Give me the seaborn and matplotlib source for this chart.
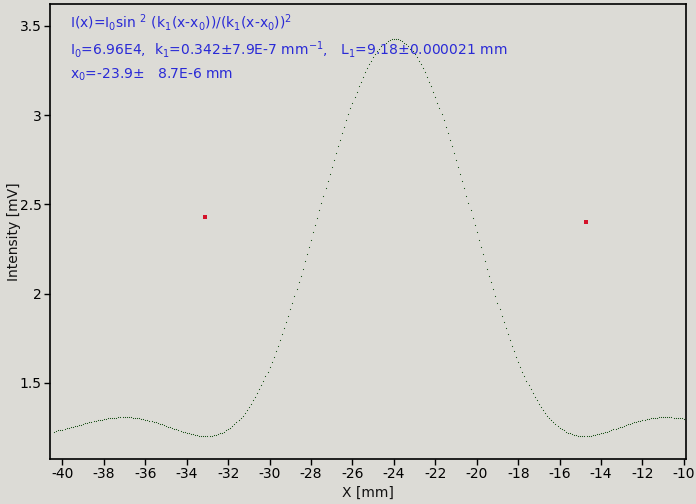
import numpy as np
import pandas as pd
import matplotlib
matplotlib.use("Agg")
import matplotlib.pyplot as plt
import seaborn as sns
from matplotlib.ticker import FuncFormatter

sns.set_theme(style="white")
plt.rcParams['font.family'] = ['DejaVu Sans']
plt.rcParams['axes.unicode_minus'] = False
plt.rcParams['mathtext.default'] = 'regular'

# measured points (x in mm, start and step of the scan)
x_start = -40.4
x_step = 0.1
intensity = [
    1.228, 1.231, 1.234, 1.236, 1.239, 1.242, 1.245, 1.248, 1.251, 1.255,
    1.258, 1.261, 1.264, 1.267, 1.271, 1.274, 1.277, 1.280, 1.283, 1.285,
    1.288, 1.291, 1.293, 1.295, 1.298, 1.299, 1.301, 1.303, 1.304, 1.305,
    1.306, 1.307, 1.308, 1.308, 1.308, 1.308, 1.307, 1.307, 1.306, 1.304,
    1.303, 1.301, 1.299, 1.297, 1.295, 1.292, 1.289, 1.286, 1.283, 1.279,
    1.276, 1.272, 1.268, 1.264, 1.260, 1.256, 1.252, 1.248, 1.244, 1.240,
    1.236, 1.232, 1.228, 1.224, 1.221, 1.217, 1.214, 1.212, 1.209, 1.207,
    1.205, 1.204, 1.203, 1.203, 1.203, 1.204, 1.205, 1.207, 1.210, 1.213,
    1.217, 1.222, 1.228, 1.234, 1.241, 1.249, 1.258, 1.268, 1.279, 1.291,
    1.304, 1.317, 1.332, 1.348, 1.365, 1.382, 1.402, 1.421, 1.442, 1.464,
    1.487, 1.512, 1.537, 1.563, 1.590, 1.618, 1.647, 1.678, 1.709, 1.740,
    1.773, 1.807, 1.841, 1.877, 1.913, 1.949, 1.987, 2.025, 2.063, 2.102,
    2.141, 2.182, 2.222, 2.262, 2.303, 2.344, 2.385, 2.426, 2.467, 2.508,
    2.549, 2.590, 2.630, 2.670, 2.710, 2.749, 2.788, 2.826, 2.863, 2.900,
    2.936, 2.971, 3.005, 3.039, 3.071, 3.102, 3.132, 3.161, 3.188, 3.215,
    3.240, 3.263, 3.285, 3.306, 3.325, 3.343, 3.359, 3.373, 3.386, 3.397,
    3.406, 3.414, 3.420, 3.425, 3.427,
    3.428,
    3.425, 3.420, 3.414, 3.406, 3.397, 3.386, 3.373, 3.359, 3.343,
    3.325, 3.306, 3.285, 3.263, 3.240, 3.215, 3.188, 3.161, 3.132, 3.102,
    3.071, 3.039, 3.005, 2.971, 2.936, 2.900, 2.863, 2.826, 2.788, 2.749,
    2.710, 2.670, 2.630, 2.590, 2.549, 2.508, 2.467, 2.426, 2.385, 2.344,
    2.303, 2.262, 2.222, 2.182, 2.141, 2.102, 2.063, 2.025, 1.987, 1.949,
    1.913, 1.877, 1.841, 1.807, 1.773, 1.740, 1.709, 1.678, 1.647, 1.618,
    1.590, 1.563, 1.537, 1.512, 1.487, 1.464, 1.442, 1.421, 1.402, 1.382,
    1.365, 1.348, 1.332, 1.317, 1.304, 1.291, 1.279, 1.268, 1.258, 1.249,
    1.241, 1.234, 1.228, 1.222, 1.217, 1.213, 1.210, 1.207, 1.205, 1.204,
    1.203, 1.203, 1.203, 1.204, 1.205, 1.207, 1.209, 1.212, 1.214, 1.217,
    1.221, 1.224, 1.228, 1.232, 1.236, 1.240, 1.244, 1.248, 1.252, 1.256,
    1.260, 1.264, 1.268, 1.272, 1.276, 1.279, 1.283, 1.286, 1.289, 1.292,
    1.295, 1.297, 1.299, 1.301, 1.303, 1.304, 1.306, 1.307, 1.307, 1.308,
    1.308, 1.308, 1.308, 1.307, 1.306, 1.305, 1.304, 1.303, 1.301, 1.299,
]
marker_x = [-33.1, -14.72]
marker_y = [2.43, 2.40]

x_ticks = [-40, -38, -36, -34, -32, -30, -28, -26, -24, -22, -20, -18, -16, -14, -12, -10]
y_ticks = [1.5, 2, 2.5, 3, 3.5]

fit_lines = [
    "I(x)=I$_0$sin $^2$ (k$_1$(x-x$_0$))/(k$_1$(x-x$_0$))$^2$",
    "I$_0$=6.96E4,  k$_1$=0.342\u00b17.9E-7 mm$^{-1}$,   L$_1$=9.18\u00b10.000021 mm",
    "x$_0$=-23.9\u00b1   8.7E-6 mm",
]

xs = np.round(x_start + x_step * np.arange(len(intensity)), 2)
df = pd.DataFrame({"x": xs, "y": intensity})
dm = pd.DataFrame({"x": marker_x, "y": marker_y})

bg = "#dcdbd6"
fig = plt.figure(figsize=(6.96, 5.04), dpi=100, facecolor=bg)
ax = fig.add_axes([50 / 696, 45 / 504, 636 / 696, 455 / 504])
ax.set_facecolor(bg)

sns.scatterplot(data=df, x="x", y="y", ax=ax, s=0.7, marker="o",
                color="#0e480e", linewidth=0, legend=False)
sns.scatterplot(data=dm, x="x", y="y", ax=ax, s=6, marker="s",
                color="#d4122a", linewidth=0, legend=False)

ax.set_xlim(-40.6, -9.9)
ax.set_ylim(1.074, 3.623)
ax.set_xticks(x_ticks)
ax.set_yticks(y_ticks)
ax.yaxis.set_major_formatter(FuncFormatter(lambda v, p: f"{v:g}"))
ax.xaxis.set_major_formatter(FuncFormatter(lambda v, p: f"{v:g}"))
ax.tick_params(axis="both", direction="out", length=4, width=1, colors="black",
               labelsize=10, pad=2, bottom=True, left=True, top=False, right=False)
for sp in ax.spines.values():
    sp.set_color("black")
    sp.set_linewidth(1.2)
ax.grid(False)

ax.set_xlabel("X [mm]", fontsize=10, color="#111111", labelpad=3)
ax.set_ylabel("Intensity [mV]", fontsize=10, color="#111111")
ax.yaxis.set_label_coords(-0.046, 0.5)

ys = [22, 49, 75]
for t, yp in zip(fit_lines, ys):
    fig.text(70 / 696, 1 - yp / 504, t, fontsize=10, color="#2a2ad6",
             ha="left", va="center")

fig.savefig("out.png", dpi=100, facecolor=bg)
